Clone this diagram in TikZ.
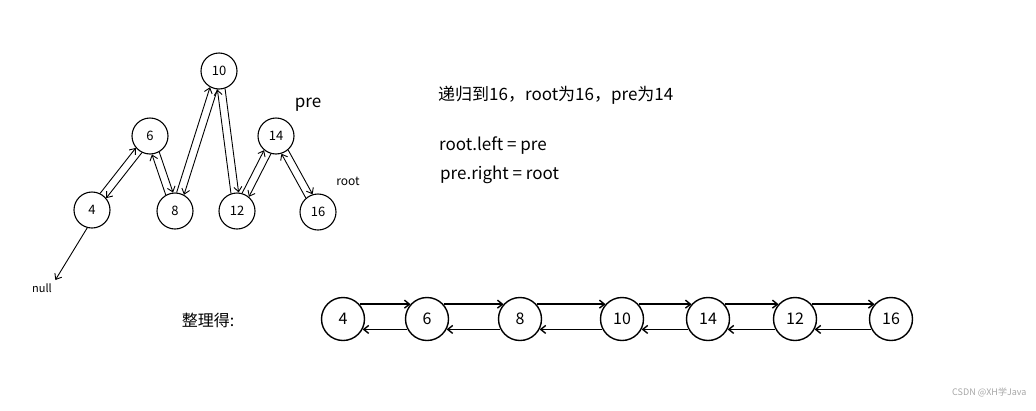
\documentclass[tikz,border=0pt]{standalone}
\usepackage{fontspec}
\setmainfont{Noto Sans CJK SC}
\usetikzlibrary{arrows.meta}

\begin{document}
\begin{tikzpicture}[x=1pt,y=-1pt,>={Straight Barb[length=5pt,width=8pt]},
  tnode/.style={circle,draw,line width=1.1pt,minimum size=36pt,inner sep=0pt,font=\fontsize{13}{15}\selectfont},
  lnode/.style={circle,draw,line width=1.4pt,minimum size=43pt,inner sep=0pt,font=\fontsize{16}{18}\selectfont},
  tlink/.style={->,line width=0.9pt},
  llink/.style={->,line width=1.4pt},
  note/.style={anchor=west,inner sep=0pt,font=\fontsize{17}{19}\selectfont}]
  \useasboundingbox (0,0) rectangle (1036,410);
  % tree before flattening
  \node[tnode] (t10) at (219,71) {10};
  \node[tnode] (t6) at (150,136) {6};
  \node[tnode] (t14) at (276,136) {14};
  \node[tnode] (t4) at (92,210) {4};
  \node[tnode] (t8) at (175,211) {8};
  \node[tnode] (t12) at (237,211) {12};
  \node[tnode] (t16) at (318,212) {16};
  \node[font=\fontsize{17}{19}\selectfont] (pre) at (308,105) {pre};
  \node[font=\fontsize{12}{14}\selectfont] (root) at (348,181) {root};
  \node[font=\fontsize{11}{13}\selectfont] (null) at (42,288) {null};
  \foreach \p/\c/\a [evaluate=\a as \b using int(\a+12),
                     evaluate=\a as \d using int(\a+168),
                     evaluate=\a as \e using int(\a+192),
                     evaluate=\a as \f using int(\a-12)]
      in {t6/t4/232,t6/t8/288,t10/t8/253,t10/t12/277,t14/t12/242,t14/t16/299}{
    \draw[tlink] (\p.\b) -- (\c.\d);
    \draw[tlink] (\c.\e) -- (\p.\f);
  }
  \draw[tlink] (t4.255) -- (null.north east);
  % notes
  \node[note] (head) at (438,95) {递归到16，root为16，pre为14};
  \node[note] (lft) at (439,146) {root.left = pre};
  \node[note] (rgt) at (440,175) {pre.right = root};
  % flattened list
  \node[font=\fontsize{16}{18}\selectfont] (sum) at (208,320) {整理得:};
  \node[lnode] (l4) at (343,319) {4};
  \node[lnode] (l6) at (427,319) {6};
  \node[lnode] (l8) at (520,319) {8};
  \node[lnode] (l10) at (622,319) {10};
  \node[lnode] (l14) at (708,319) {14};
  \node[lnode] (l12) at (795,319) {12};
  \node[lnode] (l16) at (891,319) {16};
  \foreach \a/\b in {l4/l6,l6/l8,l8/l10,l10/l14,l14/l12,l12/l16}{
    \draw[llink] (\a.42) -- (\b.138);
    \draw[llink] (\b.-152) -- (\a.-28);
  }
  \node[anchor=east,text=gray!70,font=\fontsize{9}{11}\selectfont] (mark) at (1030,392) {CSDN @XH学Java};
\end{tikzpicture}
\end{document}
